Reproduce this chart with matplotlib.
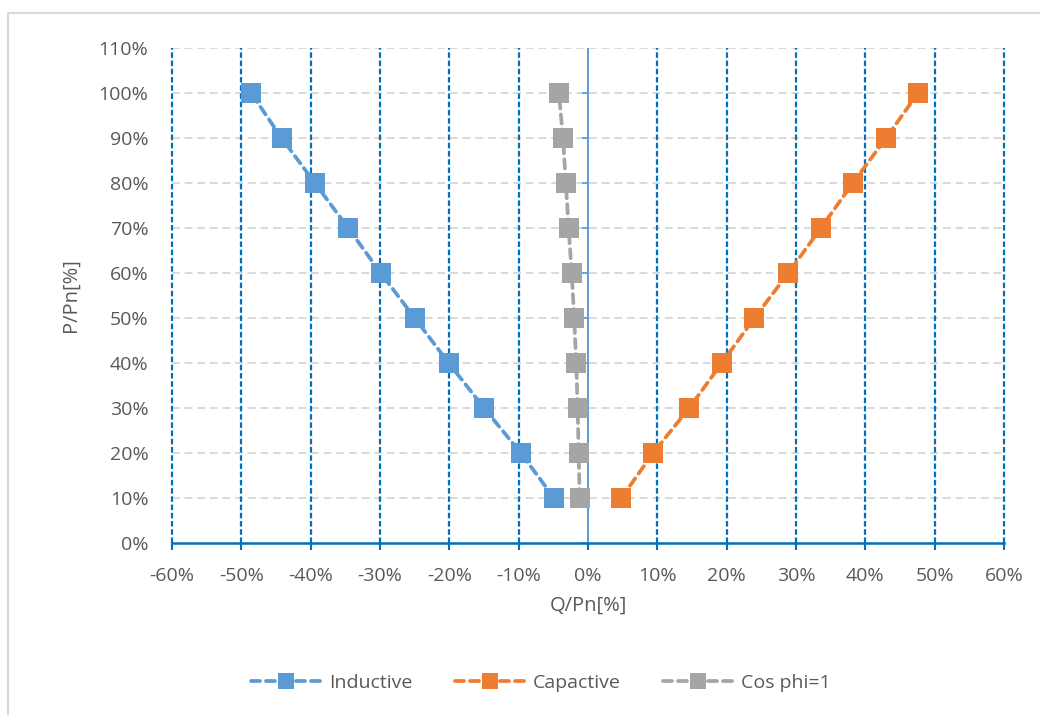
import matplotlib
matplotlib.use("Agg")
import matplotlib.pyplot as plt
import numpy as np
from matplotlib.patches import Rectangle
from matplotlib.ticker import PercentFormatter

plt.rcParams["font.family"] = ["Open Sans", "DejaVu Sans"]
plt.rcParams["axes.unicode_minus"] = False

# values in percent
p_levels = [10, 20, 30, 40, 50, 60, 70, 80, 90, 100]
q_inductive = [-4.9, -9.7, -15.0, -20.1, -25.0, -29.9, -34.6, -39.4, -44.2, -48.6]
q_capacitive = [4.8, 9.4, 14.6, 19.3, 24.0, 28.9, 33.6, 38.2, 43.0, 47.6]
q_cosphi1 = [-1.2, -1.35, -1.5, -1.7, -2.0, -2.35, -2.8, -3.2, -3.6, -4.2]

x_ticks = list(range(-60, 61, 10))
y_ticks = list(range(0, 111, 10))

series = [
    ("Inductive", q_inductive, "#5B9BD5"),
    ("Capactive", q_capacitive, "#ED7D31"),
    ("Cos phi=1", q_cosphi1, "#A5A5A5"),
]

text_color = "#595959"

fig = plt.figure(figsize=(10.4, 7.15), dpi=100)
ax = fig.add_axes([0.1654, 0.2406, 0.80, 0.6923])

# chart border
fig.patches.append(Rectangle((8 / 1040, -0.01), 1.02, 1 - 13 / 715 + 0.01,
                             transform=fig.transFigure, fill=False,
                             edgecolor="#D9D9D9", linewidth=1.5))

ax.set_xlim(-60, 60)
ax.set_ylim(0, 110)
ax.set_xticks(x_ticks)
ax.set_yticks(y_ticks)
ax.xaxis.set_major_formatter(PercentFormatter(decimals=0))
ax.yaxis.set_major_formatter(PercentFormatter(decimals=0))

# grid
for y in y_ticks[1:]:
    ax.axhline(y, color="#D9D9D9", linestyle=(0, (4, 2.5)), linewidth=1.4, zorder=1)
for x in x_ticks:
    if x != 0:
        ax.axvline(x, color="#0070C0", linestyle=(0, (2.5, 1.2)), linewidth=1.6,
                   zorder=1, clip_on=False)

# vertical axis through zero, tick marks only below the top
ax.axvline(0, color="#5B9BD5", linewidth=1.4, zorder=2)
ax.plot(np.zeros(len(y_ticks) - 1), y_ticks[:-1], linestyle="none", marker=0,
        markersize=4, markeredgewidth=1.3, color="#5B9BD5", zorder=2, clip_on=False)

for spine in ["top", "right", "left"]:
    ax.spines[spine].set_visible(False)
ax.spines["bottom"].set_color("#0070C0")
ax.spines["bottom"].set_linewidth(1.8)

ax.tick_params(axis="x", colors="#0070C0", length=5, width=1.5, labelcolor=text_color,
               labelsize=14, pad=12)
ax.tick_params(axis="y", length=0, labelcolor=text_color, labelsize=14, pad=17)

for name, q, color in series:
    ax.plot(q, p_levels, color=color, linestyle=(0, (2.4, 1.6)), linewidth=2.7,
            marker="s", markersize=14.5, markeredgewidth=0, label=name, zorder=3,
            dash_capstyle="round")

ax.set_xlabel("Q/Pn[%]", fontsize=14.5, color=text_color, labelpad=8)
ax.set_ylabel("P/Pn[%]", fontsize=14.5, color=text_color, labelpad=13)

leg = fig.legend(loc="center", bbox_to_anchor=(0.52, 0.045), ncol=3, frameon=False,
                 fontsize=14, handlelength=3.6, columnspacing=2.2, handletextpad=0.4,
                 markerscale=0.8)
for t in leg.get_texts():
    t.set_color(text_color)

fig.savefig("out.png", dpi=100)
